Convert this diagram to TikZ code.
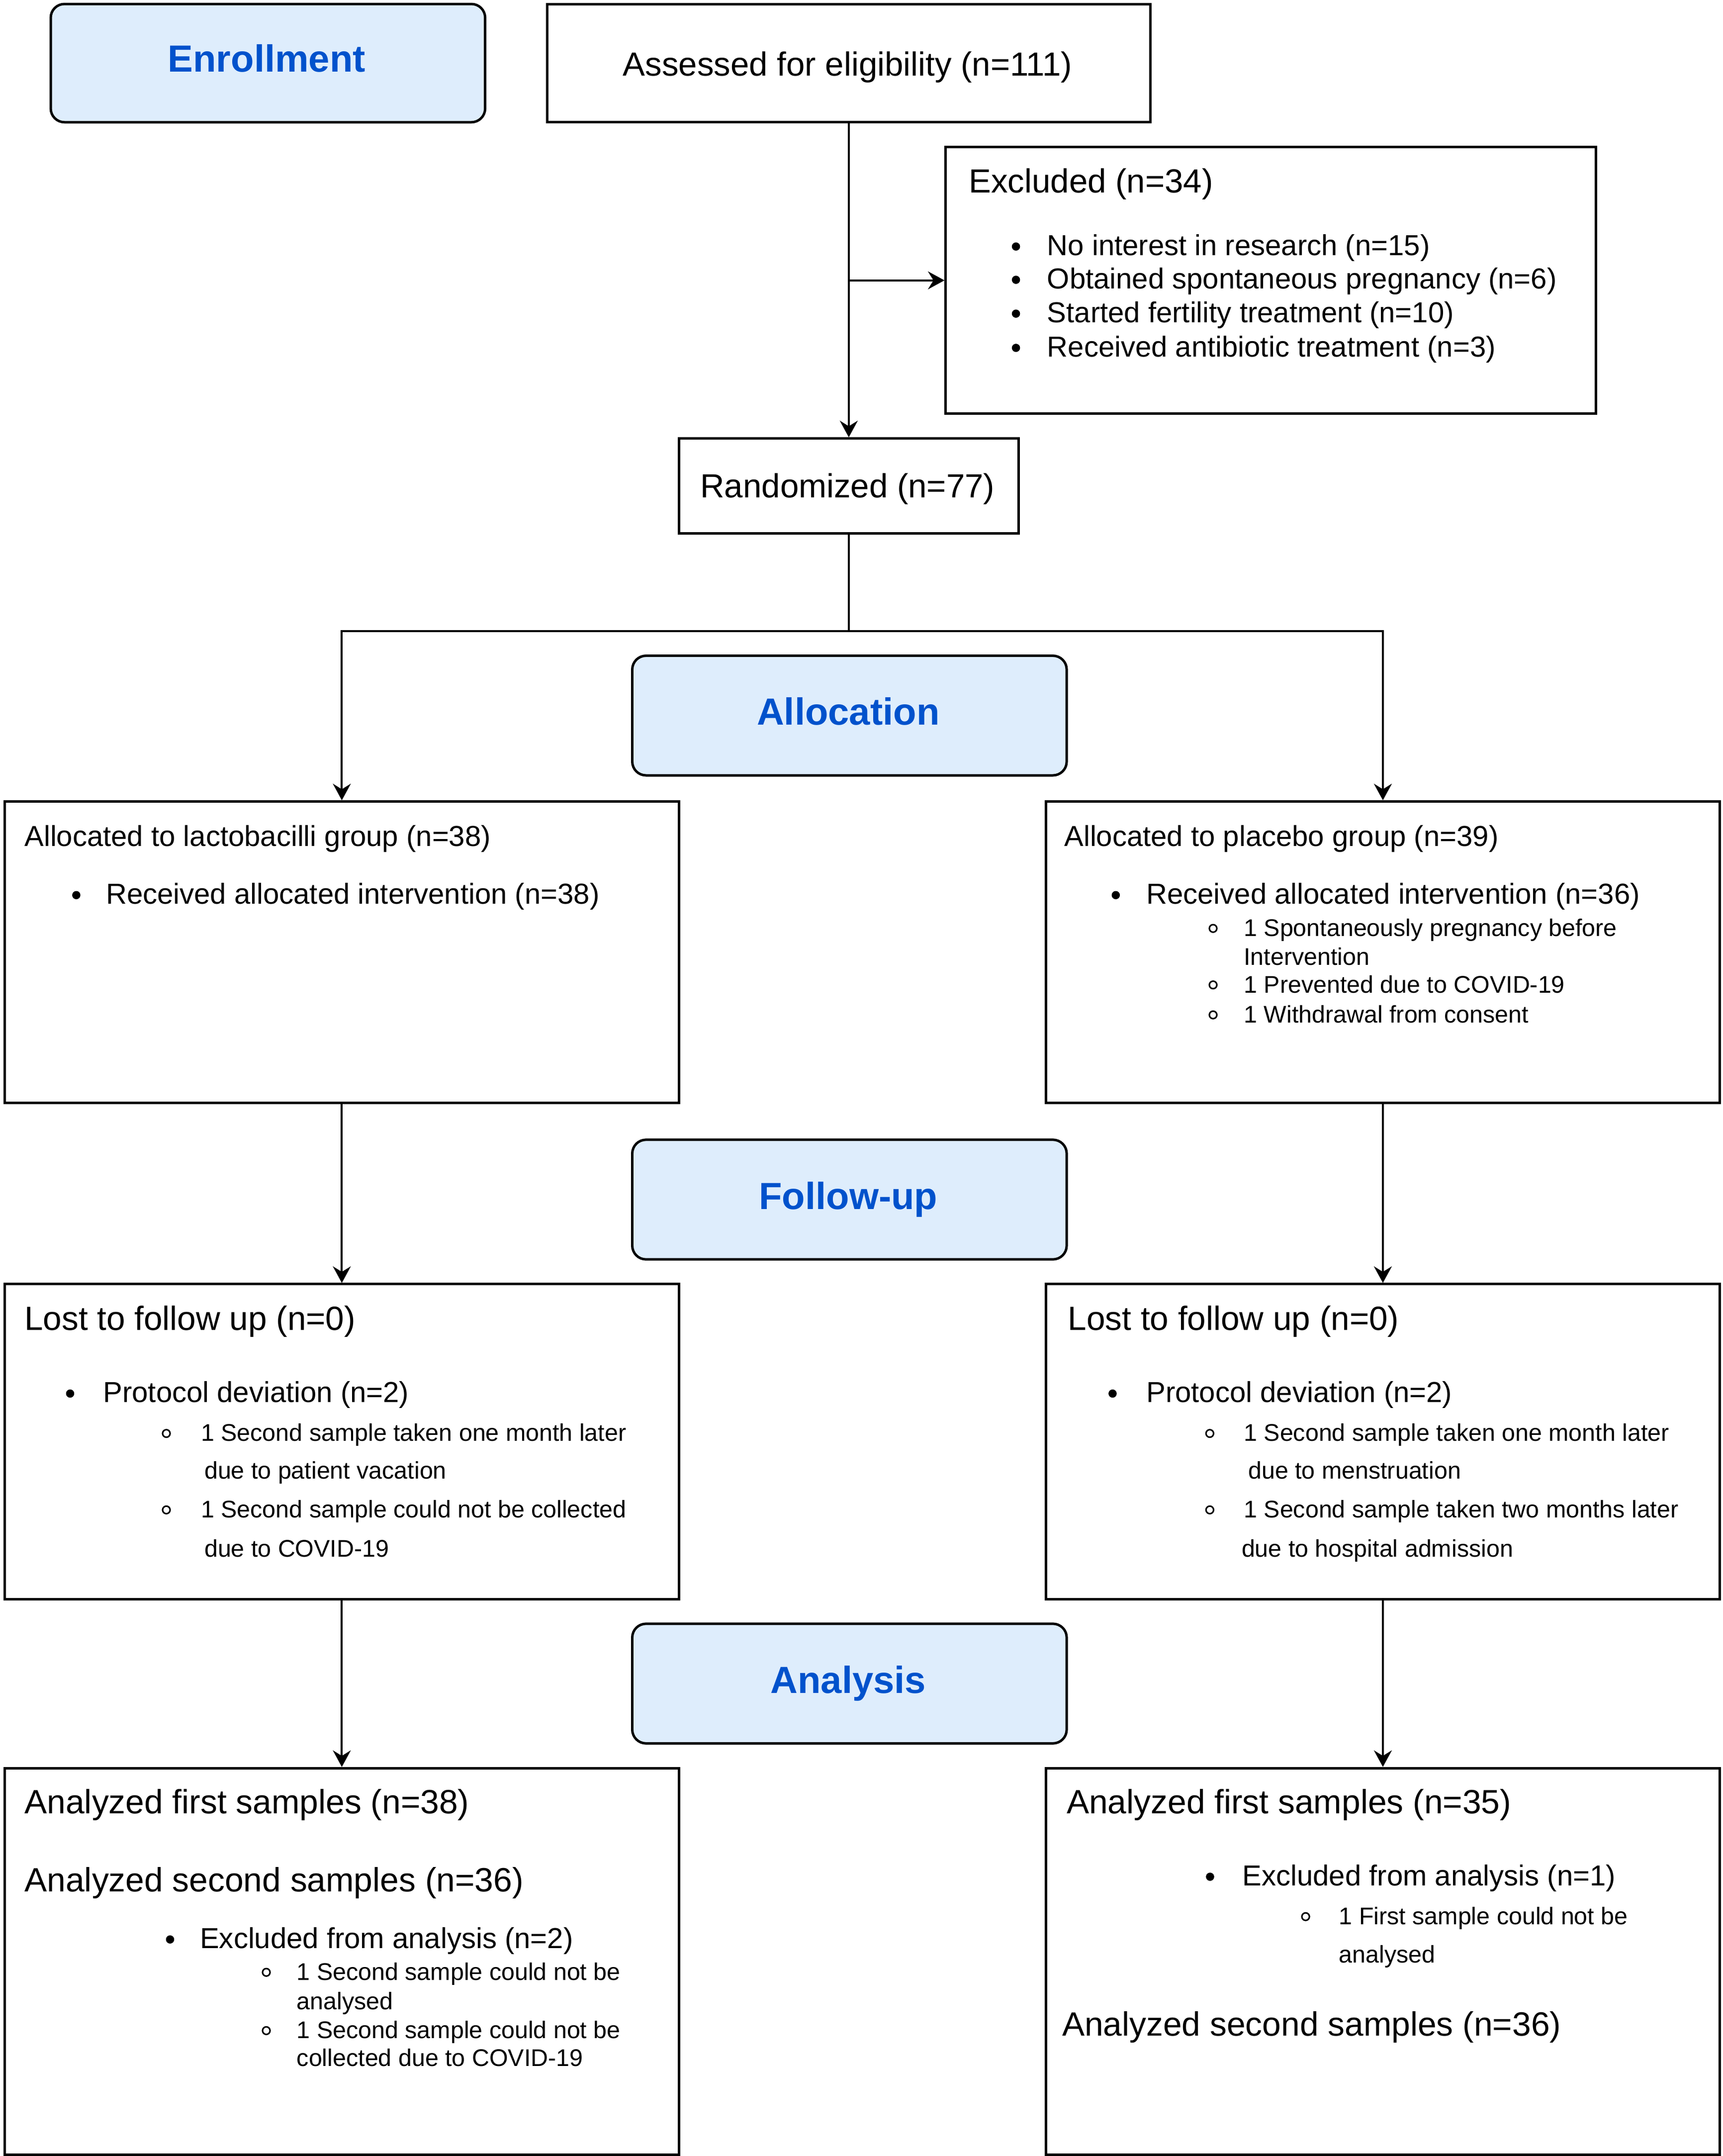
\documentclass[tikz,border=0pt]{standalone}
\usepackage{fontspec}
\setmainfont{Liberation Sans}
\usetikzlibrary{arrows.meta}
\definecolor{phasefill}{HTML}{DEEDFC}
\definecolor{phasetext}{HTML}{0052CC}
\newcommand{\txtline}[5]{\node[anchor=base west,inner sep=0pt,font=\fontsize{#4}{#4}\selectfont] (#1) at (#2,#3) {#5};}
\newcommand{\bdot}[3]{\node[bulletdot] (#1) at (#2,{#3-6.5}) {};}
\newcommand{\bcirc}[3]{\node[bulletcirc] (#1) at (#2,{#3-5.7}) {};}
\begin{document}
\begin{tikzpicture}[x=1pt,y=-1pt,
  box/.style={draw,line width=1.8pt,anchor=north west,inner sep=0pt,fill=white},
  phase/.style={draw,line width=1.8pt,anchor=north west,inner sep=0pt,fill=phasefill,rounded corners=10pt},
  phasetxt/.style={anchor=base,inner sep=0pt,text=phasetext,font=\fontsize{27.5}{27.5}\selectfont\bfseries},
  centxt/.style={anchor=base,inner sep=0pt,font=\fontsize{24.3}{24.3}\selectfont},
  bulletdot/.style={circle,fill=black,inner sep=0pt,minimum size=6pt},
  bulletcirc/.style={circle,draw=black,line width=1.1pt,inner sep=0pt,minimum size=5.5pt},
  arr/.style={-{Stealth[length=12pt,width=13pt,inset=4pt]},line width=1.45pt},
  link/.style={line width=1.45pt}]
\useasboundingbox (0,0) rectangle (1253,1568);

% ---- boxes ----
\node[phase,minimum width=316pt,minimum height=86pt] (enr) at (36,2) {};
\node[box,minimum width=439pt,minimum height=86pt] (ass) at (397,2) {};
\node[box,minimum width=473pt,minimum height=194pt] (exc) at (687,106) {};
\node[box,minimum width=247pt,minimum height=69pt] (ran) at (493,318) {};
\node[phase,minimum width=316pt,minimum height=87pt] (alc) at (459,476) {};
\node[box,minimum width=490.5pt,minimum height=219pt] (la) at (2.5,582) {};
\node[box,minimum width=490pt,minimum height=219pt] (ra) at (760,582) {};
\node[phase,minimum width=316pt,minimum height=87pt] (fup) at (459,828) {};
\node[box,minimum width=490.5pt,minimum height=229pt] (lf) at (2.5,933) {};
\node[box,minimum width=490pt,minimum height=229pt] (rf) at (760,933) {};
\node[phase,minimum width=316pt,minimum height=87pt] (ana) at (459,1180) {};
\node[box,minimum width=490.5pt,minimum height=281pt] (lan) at (2.5,1285) {};
\node[box,minimum width=490pt,minimum height=281pt] (rann) at (760,1285) {};

% ---- phase labels ----
\node[phasetxt] (enrT) at (194,52.4) {Enrollment};
\node[phasetxt] (alcT) at (617,527.3) {Allocation};
\node[phasetxt] (fupT) at (617,879.3) {Follow-up};
\node[phasetxt] (anaT) at (617,1231.3) {Analysis};

% ---- top texts ----
\node[centxt] (assT) at (616.5,55) {Assessed for eligibility (n=111)};
\node[centxt] (ranT) at (616.5,362) {Randomized (n=77)};

% ---- excluded ----
\txtline{excT}{704.6}{140}{24.3}{Excluded (n=34)}
\bdot{excB1}{739}{185.8}\txtline{exc1}{761.5}{185.8}{21}{No interest in research (n=15)}
\bdot{excB2}{739}{210}\txtline{exc2}{761.5}{210}{21}{Obtained spontaneous pregnancy (n=6)}
\bdot{excB3}{739}{234.6}\txtline{exc3}{761.5}{234.6}{21}{Started fertility treatment (n=10)}
\bdot{excB4}{739}{259.5}\txtline{exc4}{761.5}{259.5}{21}{Received antibiotic treatment (n=3)}

% ---- allocation left ----
\txtline{laT}{17.7}{615.5}{21}{Allocated to lactobacilli group (n=38)}
\bdot{laB}{55.5}{657.5}\txtline{la1}{76.9}{657.5}{21}{Received allocated intervention (n=38)}

% ---- allocation right ----
\txtline{raT}{774}{615.5}{21}{Allocated to placebo group (n=39)}
\bdot{raB}{811.6}{657.5}\txtline{ra1}{833.7}{657.5}{21}{Received allocated intervention (n=36)}
\bcirc{raC1}{882.4}{680.9}\txtline{ra2}{904.6}{680.9}{17.5}{1 Spontaneously pregnancy before}
\txtline{ra3}{904.6}{701.9}{17.5}{Intervention}
\bcirc{raC2}{882.4}{722}\txtline{ra4}{904.6}{722}{17.5}{1 Prevented due to COVID-19}
\bcirc{raC3}{882.4}{743.8}\txtline{ra5}{904.6}{743.8}{17.5}{1 Withdrawal from consent}

% ---- follow-up left ----
\txtline{lfT}{17.7}{967.5}{24.4}{Lost to follow up (n=0)}
\bdot{lfB}{51}{1020}\txtline{lf1}{74.9}{1020}{21}{Protocol deviation (n=2)}
\bcirc{lfC1}{121}{1048.2}\txtline{lf2}{146}{1048.2}{17.5}{1 Second sample taken one month later}
\txtline{lf3}{148.5}{1075.6}{17.5}{due to patient vacation}
\bcirc{lfC2}{121}{1103.8}\txtline{lf4}{146}{1103.8}{17.5}{1 Second sample could not be collected}
\txtline{lf5}{148.5}{1132.2}{17.5}{due to COVID-19}

% ---- follow-up right ----
\txtline{rfT}{776.7}{967.5}{24.4}{Lost to follow up (n=0)}
\bdot{rfB}{809.3}{1020}\txtline{rf1}{833.7}{1020}{21}{Protocol deviation (n=2)}
\bcirc{rfC1}{880}{1048.2}\txtline{rf2}{904.6}{1048.2}{17.5}{1 Second sample taken one month later}
\txtline{rf3}{907.8}{1075.6}{17.5}{due to menstruation}
\bcirc{rfC2}{880}{1103.8}\txtline{rf4}{904.6}{1103.8}{17.5}{1 Second sample taken two months later}
\txtline{rf5}{903}{1132.2}{17.5}{due to hospital admission}

% ---- analysis left ----
\txtline{lanT1}{17.7}{1318.8}{24.5}{Analyzed first samples (n=38)}
\txtline{lanT2}{17.7}{1375.6}{24.5}{Analyzed second samples (n=36)}
\bdot{lanB}{123.7}{1417}\txtline{lan1}{145.3}{1417}{21}{Excluded from analysis (n=2)}
\bcirc{lanC1}{193.7}{1440.1}\txtline{lan2}{215.7}{1440.1}{17.5}{1 Second sample could not be}
\txtline{lan3}{215.7}{1461.3}{17.5}{analysed}
\bcirc{lanC2}{193.7}{1482.5}\txtline{lan4}{215.7}{1482.5}{17.5}{1 Second sample could not be}
\txtline{lan5}{215.7}{1502.7}{17.5}{collected due to COVID-19}

% ---- analysis right ----
\txtline{rnT1}{775.7}{1318.8}{24.5}{Analyzed first samples (n=35)}
\bdot{rnB}{880.2}{1371.4}\txtline{rn1}{903.6}{1371.4}{21}{Excluded from analysis (n=1)}
\bcirc{rnC1}{949.7}{1399.6}\txtline{rn2}{973.8}{1399.6}{17.5}{1 First sample could not be}
\txtline{rn3}{973.8}{1427.6}{17.5}{analysed}
\txtline{rnT2}{772.4}{1480.5}{24.5}{Analyzed second samples (n=36)}

% ---- connectors ----
\draw[arr] (ass.south) -- (ran.north);
\coordinate (br) at (ass.south |- exc.west);
\draw[arr] (br) -- (exc.west);
\coordinate (splitlvl) at (0,459);
\coordinate (split) at (ran.south |- splitlvl);
\draw[link] (ran.south) -- (split);
\draw[arr] (split) -| (la.north);
\draw[arr] (split) -| (ra.north);
\draw[arr] (la.south) -- (lf.north);
\draw[arr] (ra.south) -- (rf.north);
\draw[arr] (lf.south) -- (lan.north);
\draw[arr] (rf.south) -- (rann.north);
\end{tikzpicture}
\end{document}
